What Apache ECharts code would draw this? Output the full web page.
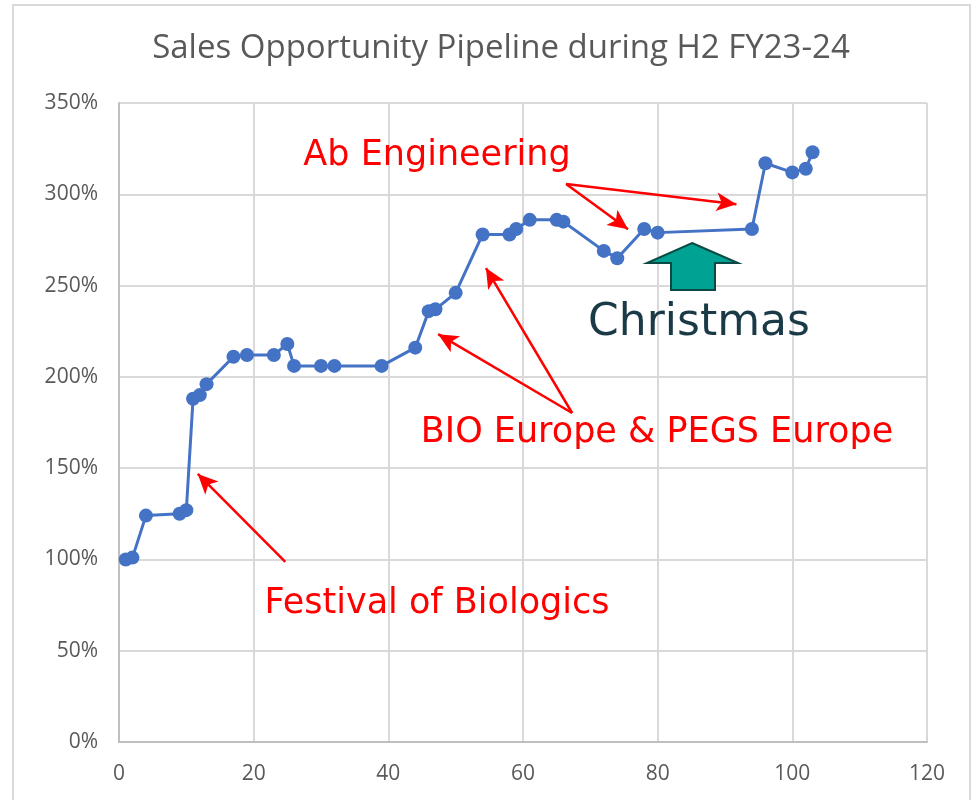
<!DOCTYPE html>
<html>
<head>
<meta charset="utf-8">
<title>Sales Opportunity Pipeline</title>
<script src="https://cdn.jsdelivr.net/npm/echarts@6/dist/echarts.min.js"></script>
<style>html,body{margin:0;padding:0;background:#fff;}</style>
</head>
<body>
<div id="main" style="width:977px;height:800px;"></div>
<script>
// day index and pipeline (% of start)
var days = [1, 2, 4, 9, 10, 11, 12, 13, 17, 19, 23, 25, 26, 30, 32, 39, 44, 46, 47, 50, 54, 58, 59, 61, 65, 66, 72, 74, 78, 80, 94, 96, 100, 102, 103];
var pipeline = [100, 101, 124, 125, 127, 188, 190, 196, 211, 212, 212, 218, 206, 206, 206, 206, 216, 236, 237, 246, 278, 278, 281, 286, 286, 285, 269, 265, 281, 279, 281, 317, 312, 314, 323];
var yTicks = [0, 50, 100, 150, 200, 250, 300, 350];

// annotation arrows in data coords [from, to]
var arrows = [
  [[24.7, 98.6], [11.7, 146.8]],
  [[67.3, 180.2], [47.4, 223.4]],
  [[67.3, 180.2], [54.5, 259.6]],
  [[66.4, 305.6], [75.6, 280.9]],
  [[66.4, 305.6], [91.7, 294.6]]
];

var pts = [];
for (var i = 0; i < days.length; i++) pts.push([days[i], pipeline[i]]);

var arrowData = arrows.map(function (a) {
  return [{ coord: a[0], symbol: 'none' }, { coord: a[1], symbol: 'arrow', symbolSize: [14, 20] }];
});

var redText = { fill: '#ff0000', fontSize: 35, fontFamily: 'DejaVu Sans', textAlign: 'center', textVerticalAlign: 'middle' };

var chart = echarts.init(document.getElementById('main'));
chart.setOption({
  animation: false,
  backgroundColor: '#fff',
  title: {
    text: 'Sales Opportunity Pipeline during H2 FY23-24',
    left: 496, top: 27, textAlign: 'center',
    textStyle: { color: '#595959', fontSize: 33, fontWeight: 'normal', fontFamily: 'Open Sans' }
  },
  grid: { left: 119, right: 50, top: 103, bottom: 58 },
  xAxis: {
    type: 'value', min: 0, max: 120, interval: 20,
    axisLine: { show: true, lineStyle: { color: '#bfbfbf', width: 2 } },
    axisTick: { show: false },
    splitLine: { show: true, lineStyle: { color: '#d9d9d9', width: 2 } },
    axisLabel: { color: '#595959', fontSize: 21, margin: 22, fontFamily: 'Open Sans' }
  },
  yAxis: {
    type: 'value', min: yTicks[0], max: yTicks[yTicks.length - 1], interval: 50,
    axisLine: { show: true, lineStyle: { color: '#bfbfbf', width: 2 } },
    axisTick: { show: false },
    splitLine: { show: true, lineStyle: { color: '#d9d9d9', width: 2 } },
    axisLabel: { color: '#595959', fontSize: 21, margin: 21, fontFamily: 'Open Sans', formatter: '{value}%' }
  },
  graphic: [
    { type: 'rect', shape: { x: 13, y: 5, width: 957, height: 820 }, style: { fill: 'none', stroke: '#d9d9d9', lineWidth: 2 }, z: -10 },
    { type: 'text', x: 437, y: 156, style: Object.assign({ text: 'Ab Engineering' }, redText), z: 10 },
    { type: 'text', x: 657, y: 433, style: Object.assign({ text: 'BIO Europe & PEGS Europe' }, redText), z: 10 },
    { type: 'text', x: 437, y: 604, style: Object.assign({ text: 'Festival of Biologics' }, redText), z: 10 },
    { type: 'text', x: 699, y: 324, style: { text: 'Christmas', fill: '#1b3a47', fontSize: 44, fontFamily: 'DejaVu Sans', textAlign: 'center', textVerticalAlign: 'middle' }, z: 10 },
    {
      type: 'polygon', z: 10,
      shape: { points: [[692, 243], [738, 263], [715, 263], [715, 290], [671, 290], [671, 263], [647, 263]] },
      style: { fill: '#00a393', stroke: '#0b4a44', lineWidth: 2 }
    }
  ],
  series: [{
    type: 'line',
    data: pts,
    color: '#4472c4',
    lineStyle: { width: 3 },
    symbol: 'circle',
    symbolSize: 14,
    itemStyle: { color: '#4472c4' },
    markLine: {
      silent: true,
      label: { show: false },
      lineStyle: { color: '#ff0000', width: 2.5, type: 'solid' },
      data: arrowData
    }
  }]
});
</script>
</body>
</html>
